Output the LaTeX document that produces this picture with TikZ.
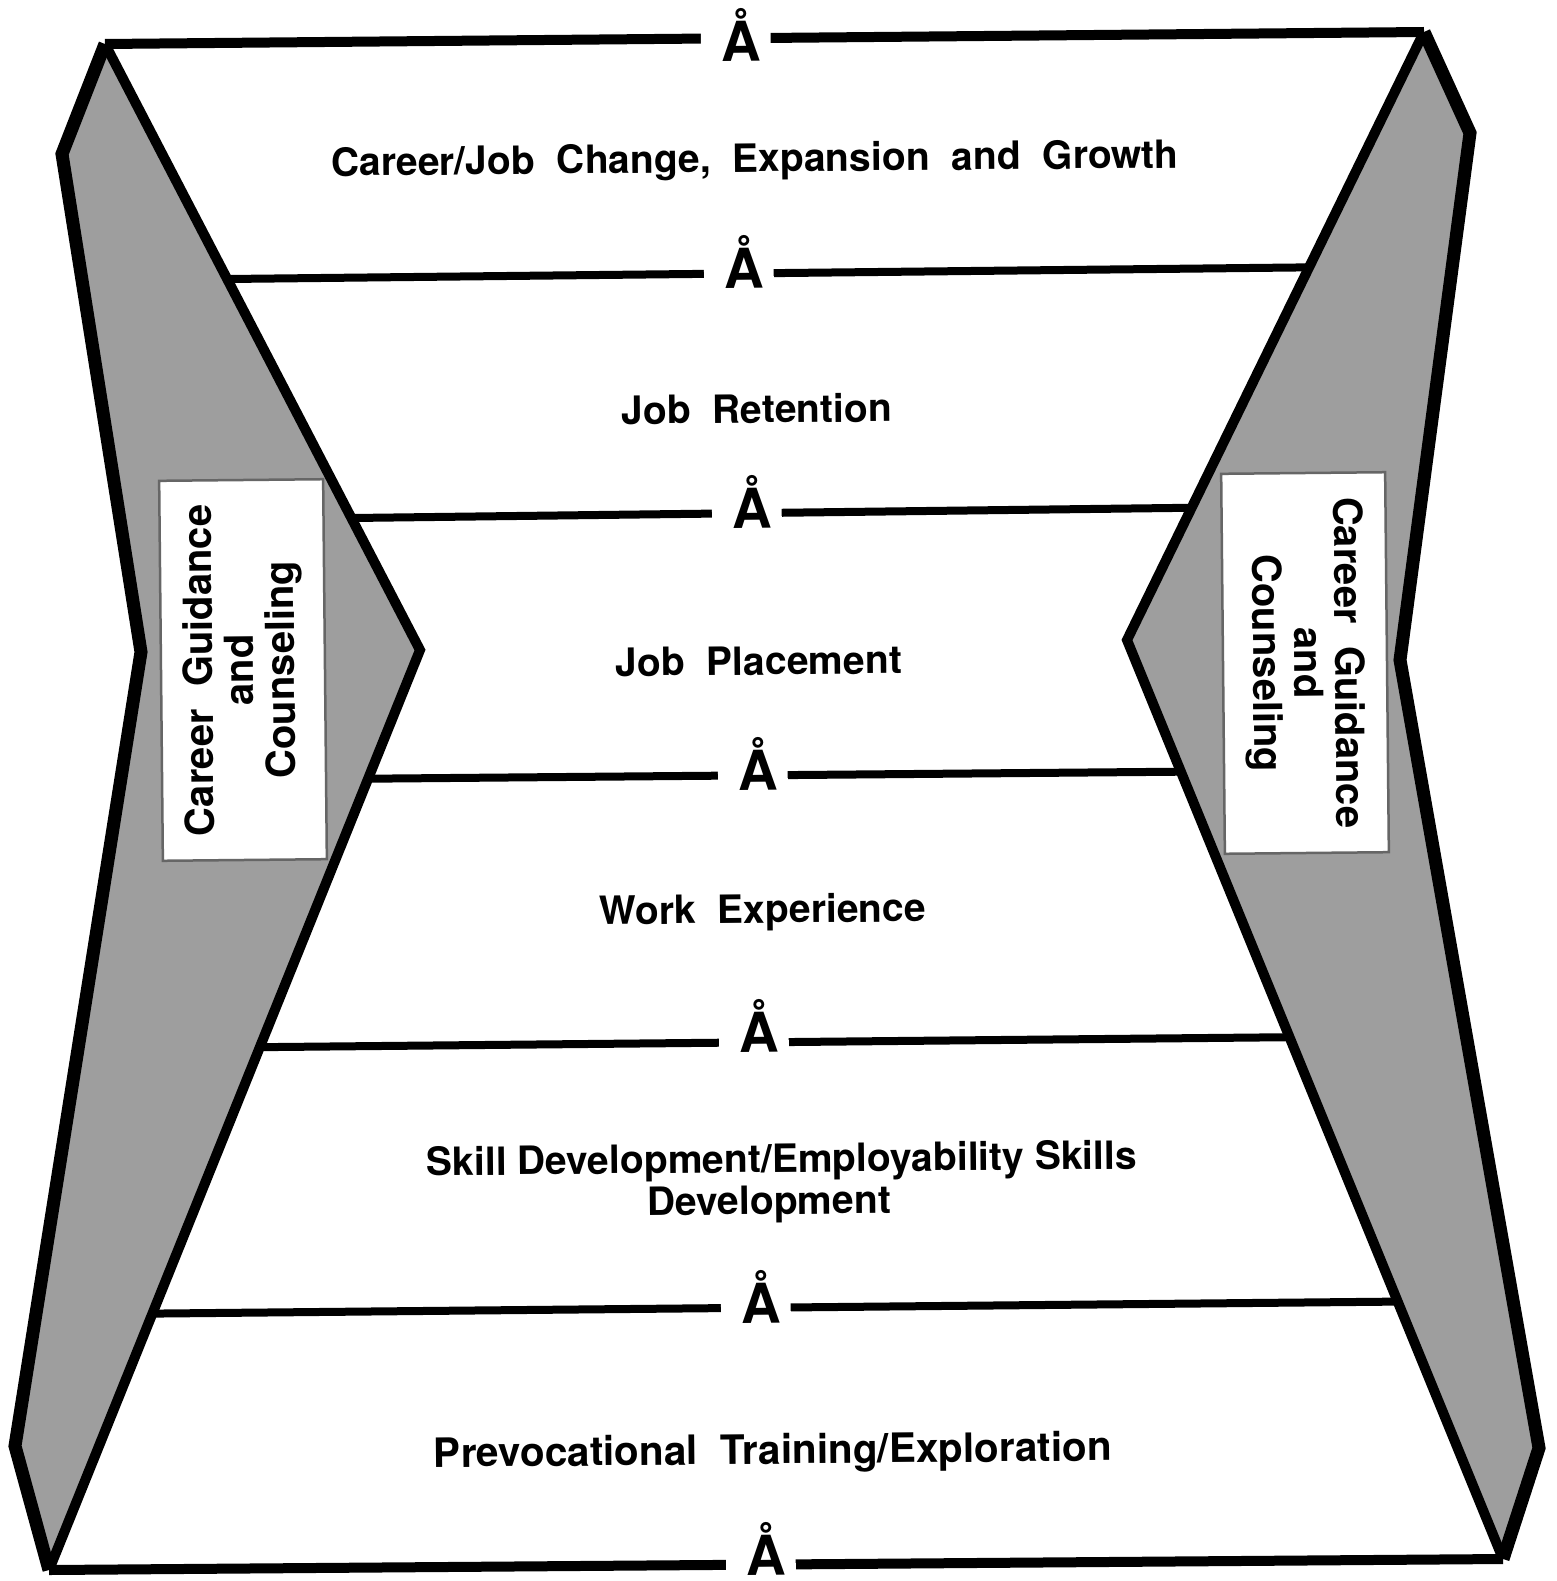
\documentclass[tikz,border=0pt]{standalone}
\usepackage{fontspec}
\setmainfont{TeX Gyre Heros}[WordSpace=2.0]
\newfontfamily\herostight{TeX Gyre Heros}
\usetikzlibrary{calc}

\tikzset{
  halftone/.style={fill=black!38, draw=none},
  rim/.style={line width=13pt, line join=miter, line cap=butt},
  inneredge/.style={line width=10pt, line join=miter, line cap=butt},
  rung/.style={line width=8pt, line cap=butt},
  outerrung/.style={line width=10pt, line cap=butt},
  stage/.style={font=\fontsize{39}{42}\selectfont\bfseries, rotate=0.56, inner sep=0pt},
  aring/.style={font=\fontsize{55}{55}\selectfont\bfseries, fill=white,
    inner xsep=10pt, inner ysep=2pt, anchor=base, rotate=0.56},
  sidebox/.style={draw=black!60, line width=2.5pt, fill=white, align=center,
    minimum width=380pt, minimum height=164pt, inner sep=0pt,
    font=\fontsize{40}{41}\selectfont\bfseries},
}

\begin{document}
\begin{tikzpicture}[x=1pt, y=-1pt]
\useasboundingbox (0,0) rectangle (1556,1581);

% left wing: apex, outer corners, notch, bottom tip, inner chevron point
\coordinate (A)  at (105,44);
\coordinate (B)  at (62,154);
\coordinate (C)  at (141,652);
\coordinate (D)  at (15,1446);
\coordinate (E)  at (49,1570);
\coordinate (F)  at (420,650);
% right wing
\coordinate (A') at (1424,32);
\coordinate (B') at (1470,133);
\coordinate (C') at (1400,660);
\coordinate (D') at (1539,1448);
\coordinate (E') at (1503,1559);
\coordinate (F') at (1127,640);

% rung end points on the inner edges
\coordinate (L2) at ($(A)!0.3878!(F)$);
\coordinate (L3) at ($(A)!0.7822!(F)$);
\coordinate (L4) at ($(F)!0.1399!(E)$);
\coordinate (L5) at ($(F)!0.4317!(E)$);
\coordinate (L6) at ($(F)!0.7213!(E)$);
\coordinate (R2) at ($(A')!0.3871!(F')$);
\coordinate (R3) at ($(A')!0.7825!(F')$);
\coordinate (R4) at ($(F')!0.1433!(E')$);
\coordinate (R5) at ($(F')!0.4322!(E')$);
\coordinate (R6) at ($(F')!0.7199!(E')$);

% shaded wings
\fill[halftone] (A) -- (B) -- (C) -- (D) -- (E) -- (F) -- cycle;
\fill[halftone] (A') -- (B') -- (C') -- (D') -- (E') -- (F') -- cycle;

% rungs
\draw[outerrung] (A) -- (A');
\draw[rung] (L2) -- (R2);
\draw[rung] (L3) -- (R3);
\draw[rung] (L4) -- (R4);
\draw[rung] (L5) -- (R5);
\draw[rung] (L6) -- (R6);
\draw[outerrung] (E) -- (E');

% wing outlines
\draw[inneredge] (A) -- (F) -- (E);
\draw[inneredge] (A') -- (F') -- (E');
\draw[rim] (A) -- (B) -- (C) -- (D) -- (E);
\draw[rim] (A') -- (B') -- (C') -- (D') -- (E');

% ring marks breaking each rung (letter set a little right of the gap centre)
\node[aring] (a1) at (736,61)   {\kern10pt Å};
\node[aring] (a2) at (739,288)  {\kern10pt Å};
\node[aring] (a3) at (747,528)  {\kern10pt Å};
\node[aring] (a4) at (753,790)  {\kern10pt Å};
\node[aring] (a5) at (754,1052) {\kern10pt Å};
\node[aring] (a6) at (756,1323) {\kern10pt Å};
\node[aring, inner ysep=0.5pt] (a7) at (761,1575) {\kern10pt Å};

% stage labels
\node[stage, anchor=base] (s1) at (755,172)  {Career/Job Change, Expansion and Growth};
\node[stage, anchor=base] (s2) at (757,423)  {Job Retention};
\node[stage, anchor=base] (s3) at (759,675)  {Job Placement};
\node[stage, anchor=base] (s4) at (763,923)  {Work Experience};
\node[stage, align=center, font=\fontsize{39}{42}\selectfont\herostight\bfseries] (s5) at (782,1183)
  {Skill Development/Employability Skills\\Development\hspace*{26pt}};
\node[stage, anchor=base, font=\fontsize{40.5}{42}\selectfont\bfseries] (s6) at (773,1464)
  {Prevocational Training/Exploration};

% side panels
\node[sidebox, rotate=90.56]  (gl) at (243,670)  {Career Guidance\\and\\Counseling};
\node[sidebox, rotate=-89.44] (gr) at (1305,663) {Career Guidance\\and\\Counseling};
\end{tikzpicture}
\end{document}
